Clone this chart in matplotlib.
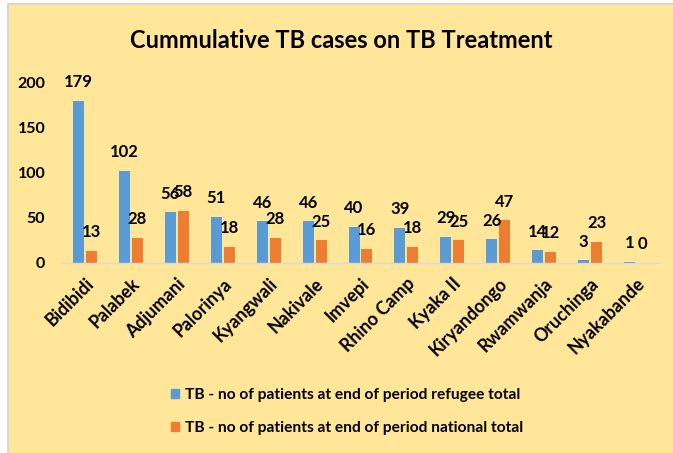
import matplotlib
matplotlib.use("Agg")
import matplotlib.pyplot as plt
import matplotlib.patches as mpatches
import matplotlib.transforms as mtransforms
import numpy as np

categories = ["Bidibidi", "Palabek", "Adjumani", "Palorinya", "Kyangwali", "Nakivale",
              "Imvepi", "Rhino Camp", "Kyaka II", "Kiryandongo", "Rwamwanja",
              "Oruchinga", "Nyakabande"]
refugee = [179, 102, 56, 51, 46, 46, 40, 39, 29, 26, 14, 3, 1]
national = [13, 28, 58, 18, 28, 25, 16, 18, 25, 47, 12, 23, 0]
series_names = ["TB - no of patients at end of period refugee total",
                "TB - no of patients at end of period national total"]
title = "Cummulative TB cases on TB Treatment"
yticks = [0, 50, 100, 150, 200]

BLUE = "#5B9BD5"
ORANGE = "#ED7D31"
BG = "#FFE699"

plt.rcParams['font.family'] = ['Lato', 'DejaVu Sans']

W, H = 673, 453
fig = plt.figure(figsize=(W / 100, H / 100), dpi=100)
fig.patch.set_facecolor("white")

# yellow chart area with grey border left/top
fig.patches.append(mpatches.Rectangle((9 / W, 0), 1 - 9 / W, 1 - 5 / H, transform=fig.transFigure,
                                      facecolor=BG, edgecolor="none", zorder=-10))
fig.patches.append(mpatches.Rectangle((7 / W, 0), 2 / W, 1 - 3 / H, transform=fig.transFigure,
                                      facecolor="#D6D6D6", edgecolor="none", zorder=-10))
fig.patches.append(mpatches.Rectangle((7 / W, 1 - 5 / H), 1 - 7 / W, 2 / H, transform=fig.transFigure,
                                      facecolor="#D6D6D6", edgecolor="none", zorder=-10))

left, right, bottom, top = 62 / W, 659 / W, 1 - 263 / H, 1 - 82 / H
ax = fig.add_axes([left, bottom, right - left, top - bottom])
ax.set_facecolor("none")

x = np.arange(len(categories))
bw = 0.24
off = 0.141
b1 = ax.bar(x - off, refugee, bw, color=BLUE, zorder=2)
b2 = ax.bar(x + off, national, bw, color=ORANGE, zorder=2)

for bars, vals in ((b1, refugee), (b2, national)):
    for rect, v in zip(bars, vals):
        ax.annotate(str(v), (rect.get_x() + rect.get_width() / 2, v),
                    xytext=(0, 13.5), textcoords="offset points",
                    ha="center", va="center", fontsize=12, fontweight="bold",
                    color="black", annotation_clip=False)

ax.set_xlim(-0.5, len(categories) - 0.5)
ax.set_ylim(0, 200)
ax.set_yticks(yticks)
ax.set_yticklabels([str(t) for t in yticks], fontsize=11.5, fontweight="bold")
ax.tick_params(axis="y", length=0, pad=12)
ax.set_xticks(x)
ax.set_xticklabels(categories, rotation=45, ha="right", va="center",
                   rotation_mode="anchor", fontsize=12.8, fontweight="bold")
ax.tick_params(axis="x", length=0, pad=13)
shift = mtransforms.ScaledTranslation(6 / 100, 0, fig.dpi_scale_trans)
for lbl in ax.get_xticklabels():
    lbl.set_transform(lbl.get_transform() + shift)

for s in ["top", "right", "left"]:
    ax.spines[s].set_visible(False)
ax.spines["bottom"].set_color("#D9D9D9")
ax.spines["bottom"].set_linewidth(1)

fig.text(0.5 + 5 / W, 1 - 40 / H, title, ha="center", va="center",
         fontsize=17, fontweight="bold")

handles = [mpatches.Patch(color=BLUE), mpatches.Patch(color=ORANGE)]
fig.legend(handles, series_names, loc="upper left", bbox_to_anchor=(157 / W, 1 - 374 / H),
           frameon=False, prop={"size": 11.2, "weight": "bold"},
           handlelength=0.5, handleheight=0.5, handletextpad=0.4, labelspacing=1.2)

fig.savefig("out.png", dpi=100, facecolor=fig.get_facecolor())
